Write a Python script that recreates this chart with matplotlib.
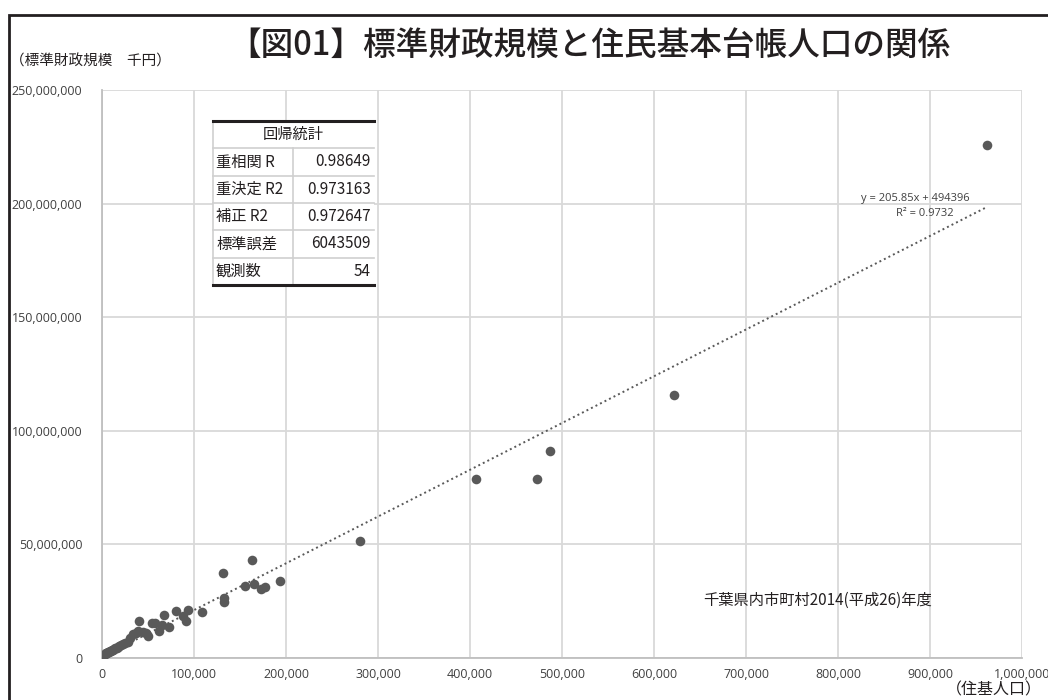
import matplotlib.pyplot as plt
from matplotlib.patches import Rectangle
from matplotlib.ticker import FuncFormatter

plt.rcParams['font.family'] = ['Noto Sans CJK JP', 'DejaVu Sans']

# 住基人口 (人) と 標準財政規模 (千円), 千葉県内 54 市町村
population = [962000, 622000, 487000, 473000, 406500, 280000, 193500, 177000,
              172500, 165500, 162700, 155400, 133000, 132500, 131000, 109000,
              93000, 91300, 88400, 80400, 73000, 67400, 65000, 62000, 58000,
              54000, 50300, 48000, 45000, 40600, 39500, 37000, 34000, 28000,
              25000, 23000, 21000, 19000, 17500, 16000, 14500, 13000, 12000,
              10500, 9500, 8500, 7500, 6500, 5500, 4800, 4000, 3200, 2500, 30000]
fiscal = [226000000, 115800000, 91000000, 78800000, 78800000, 51500000,
          33800000, 31400000, 30300000, 32700000, 43000000, 31900000,
          24800000, 26300000, 37400000, 20100000, 21100000, 16300000,
          18600000, 20900000, 13800000, 18900000, 14500000, 11800000,
          15200000, 15300000, 9600000, 11000000, 11300000, 16500000,
          11700000, 11200000, 10500000, 7200000, 6600000, 6000000, 5600000,
          5200000, 4900000, 4500000, 4300000, 4000000, 3700000, 3400000,
          3200000, 3000000, 2800000, 2600000, 2400000, 2200000, 2000000,
          1800000, 1500000, 8600000]

# 近似直線 (グラフ中の式)
slope = 205.85
intercept = 494396

stat_labels = ["重相関 R", "重決定 R2", "補正 R2", "標準誤差", "観測数"]
stat_values = ["0.98649", "0.973163", "0.972647", "6043509", "54"]

fig = plt.figure(figsize=(10.48, 7.0), dpi=100)
ax = fig.add_axes([102 / 1048, 1 - 658 / 700, 920 / 1048, 568 / 700])

ax.scatter(population, fiscal, s=48, color="#595959", zorder=3, linewidths=0)
x0, x1 = min(population), max(population)
ax.plot([x0, x1], [slope * x0 + intercept, slope * x1 + intercept],
        linestyle=(0, (1, 1.6)), color="#595959", linewidth=1.4, zorder=2)

ax.set_xlim(0, 1000000)
ax.set_ylim(0, 250000000)
ax.set_xticks(range(0, 1000001, 100000))
ax.set_yticks(range(0, 250000001, 50000000))
fmt = FuncFormatter(lambda v, p: f"{int(v):,}")
ax.xaxis.set_major_formatter(fmt)
ax.yaxis.set_major_formatter(fmt)
ax.tick_params(length=0, labelsize=9, labelcolor="#404040")
ax.tick_params(axis="y", pad=14)
ax.tick_params(axis="x", pad=7)
for lbl in ax.get_xticklabels() + ax.get_yticklabels():
    lbl.set_family(["Open Sans", "DejaVu Sans"])
ax.grid(True, color="#d9d9d9", linewidth=1.3)
ax.set_axisbelow(True)
for s in ["top", "right"]:
    ax.spines[s].set_visible(False)
for s in ["left", "bottom"]:
    ax.spines[s].set_color("#bfbfbf")
    ax.spines[s].set_linewidth(1.3)

# 式と R2
ax.text(915 / 1048, 1 - 198 / 700, "y = 205.85x + 494396", transform=fig.transFigure,
        ha="center", va="center", fontsize=8, color="#404040",
        family=["Open Sans", "DejaVu Sans"])
ax.text(925 / 1048, 1 - 213 / 700, "R² = 0.9732", transform=fig.transFigure,
        ha="center", va="center", fontsize=8, color="#404040",
        family=["Open Sans", "DejaVu Sans"])

# タイトル等
fig.text(589 / 1048, 1 - 45 / 700, "【図01】標準財政規模と住民基本台帳人口の関係",
         ha="center", va="center", fontsize=23.5, fontweight="medium", color="#231f20")
fig.text(10 / 1048, 1 - 62 / 700, "（標準財政規模　千円）", ha="left", va="center",
         fontsize=10.5, color="#231f20")
fig.text(1042 / 1048, 1 - 690 / 700, "（住基人口）", ha="right", va="center",
         fontsize=11.5, color="#231f20")
fig.text(818 / 1048, 1 - 600 / 700, "千葉県内市町村2014(平成26)年度", ha="center",
         va="center", fontsize=11, color="#231f20")

# 外枠
fig.add_artist(Rectangle((9 / 1048, -0.1), 1.2, 1.1 - 15 / 700, transform=fig.transFigure,
                         fill=False, edgecolor="#231f20", linewidth=2))

# 回帰統計の表
tl, tr, tm = 213, 374, 293
tt, tb = 121, 285
rh = (tb - tt) / 6


def fx(px):
    return px / 1048


def fy(py):
    return 1 - py / 700


fig.add_artist(Rectangle((fx(tl), fy(tb)), fx(tr) - fx(tl), fy(tt) - fy(tb),
                         transform=fig.transFigure, facecolor="white", edgecolor="none"))
for i in range(1, 6):
    yy = tt + rh * i
    fig.add_artist(plt.Line2D([fx(tl), fx(tr)], [fy(yy), fy(yy)], transform=fig.transFigure,
                              color="#cfcfcf", linewidth=1.2))
fig.add_artist(plt.Line2D([fx(tm), fx(tm)], [fy(tt + rh), fy(tb)], transform=fig.transFigure,
                          color="#cfcfcf", linewidth=1.2))
fig.add_artist(plt.Line2D([fx(tl), fx(tl)], [fy(tt), fy(tb)], transform=fig.transFigure,
                          color="#cfcfcf", linewidth=1.2))
fig.add_artist(plt.Line2D([fx(tl), fx(tr)], [fy(tt), fy(tt)], transform=fig.transFigure,
                          color="#231f20", linewidth=2.2))
fig.add_artist(plt.Line2D([fx(tl), fx(tr)], [fy(tb), fy(tb)], transform=fig.transFigure,
                          color="#231f20", linewidth=2.2))

fig.text(fx((tl + tr) / 2), fy(tt + rh / 2), "回帰統計", ha="center", va="center",
         fontsize=11, color="#231f20")
for i, (lab, val) in enumerate(zip(stat_labels, stat_values)):
    yc = tt + rh * (i + 1.5)
    fig.text(fx(tl + 3), fy(yc), lab, ha="left", va="center", fontsize=11,
             color="#231f20")
    fig.text(fx(tr - 3), fy(yc), val, ha="right", va="center", fontsize=11,
             color="#231f20")

fig.savefig("out.png", dpi=100)
